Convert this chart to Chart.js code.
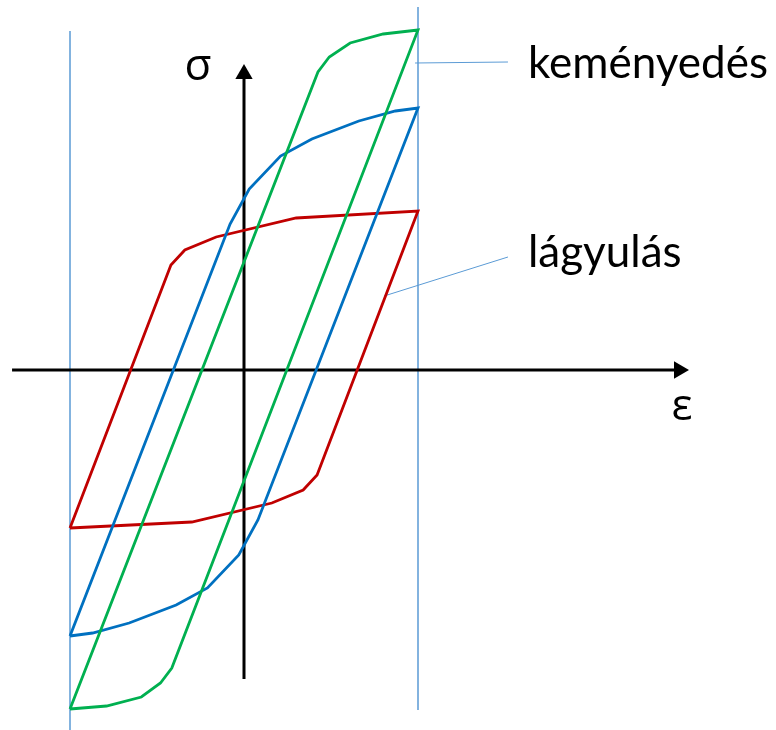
<!DOCTYPE html>
<html>
<head>
<meta charset="utf-8">
<script src="https://cdn.jsdelivr.net/npm/chart.js@4"></script>
<style>
  html, body { margin: 0; padding: 0; background: #fff; }
  canvas { display: block; }
</style>
</head>
<body>
<canvas id="loops" width="776" height="730"></canvas>
<script>
// cyclic stress-strain loops, strain = eps, stress = sig (arbitrary units)
// each loop: bottom-left corner -> upper branch -> top-right -> lower branch -> back
const softEps = [-1, -0.42, -0.34, -0.16, 0.30, 1, 0.42, 0.34, 0.16, -0.30, -1];
const softSig = [-1.58, 1.05, 1.20, 1.33, 1.52, 1.59, -1.05, -1.20, -1.33, -1.52, -1.58];

const midEps = [-1, -0.08, 0.03, 0.21, 0.39, 0.66, 0.87, 1, 0.08, -0.03, -0.21, -0.39, -0.66, -0.87, -1];
const midSig = [-2.66, 1.46, 1.81, 2.14, 2.31, 2.49, 2.59, 2.62, -1.50, -1.85, -2.18, -2.35, -2.53, -2.63, -2.66];

const hardEps = [-1, 0.425, 0.49, 0.61, 0.80, 1, -0.415, -0.48, -0.59, -0.79, -1];
const hardSig = [-3.39, 2.98, 3.13, 3.27, 3.36, 3.40, -2.98, -3.13, -3.27, -3.36, -3.39];

// axes (with arrow tips) and the strain limits
const epsAxisEps = [-1.333, 2.50];
const epsAxisSig = [0, 0];
const sigAxisEps = [0, 0];
const sigAxisSig = [-3.09, 2.96];
const limitLeftSig = [3.39, -3.7];
const limitRightSig = [3.63, -3.40];

// callout lines to the labels
const hardLeadEps = [0.983, 1.517];
const hardLeadSig = [3.07, 3.08];
const softLeadEps = [0.805, 1.517];
const softLeadSig = [0.74, 1.13];

const labelHard = 'keményedés';
const labelSoft = 'lágyulás';
const labelSig = 'σ';
const labelEps = 'ε';

function pts(xs, ys) {
  return xs.map((x, i) => ({ x: x, y: ys[i] }));
}

function lineSet(data, color, width, order) {
  return {
    data: data,
    showLine: true,
    borderColor: color,
    borderWidth: width,
    pointRadius: 0,
    fill: false,
    tension: 0,
    order: order
  };
}

const guideBlue = '#5b9bd5';

const axisX = lineSet(pts(epsAxisEps, epsAxisSig), '#000', 3, 5);
axisX.pointRadius = [0, 10];
axisX.pointStyle = 'triangle';
axisX.rotation = 90;
axisX.pointBackgroundColor = '#000';
axisX.pointBorderWidth = 0;

const axisY = lineSet(pts(sigAxisEps, sigAxisSig), '#000', 3, 5);
axisY.pointRadius = [0, 10];
axisY.pointStyle = 'triangle';
axisY.pointBackgroundColor = '#000';
axisY.pointBorderWidth = 0;

const textPlugin = {
  id: 'loopText',
  afterDraw(chart) {
    const ctx = chart.ctx;
    const sx = chart.scales.x, sy = chart.scales.y;
    const at = (e, s) => [sx.getPixelForValue(e), sy.getPixelForValue(s)];
    ctx.save();
    ctx.fillStyle = '#000';
    ctx.textBaseline = 'alphabetic';

    ctx.textAlign = 'center';
    ctx.font = '44px "Open Sans"';
    let p = at(-0.264, 2.90);
    ctx.fillText(labelSig, p[0], p[1]);
    p = at(2.517, -0.50);
    ctx.fillText(labelEps, p[0], p[1]);

    ctx.textAlign = 'left';
    ctx.font = '44px Lato';
    p = at(1.632, 2.92);
    ctx.fillText(labelHard, p[0], p[1]);
    p = at(1.632, 1.03);
    ctx.fillText(labelSoft, p[0], p[1]);
    ctx.restore();
  }
};

new Chart(document.getElementById('loops'), {
  type: 'scatter',
  data: {
    datasets: [
      lineSet(pts([-1, -1], limitLeftSig), guideBlue, 1.5, 6),
      lineSet(pts([1, 1], limitRightSig), guideBlue, 1.5, 6),
      lineSet(pts(hardLeadEps, hardLeadSig), guideBlue, 1, 6),
      lineSet(pts(softLeadEps, softLeadSig), guideBlue, 1, 6),
      axisX,
      axisY,
      lineSet(pts(softEps, softSig), '#c00000', 2.8, 3),
      lineSet(pts(midEps, midSig), '#0070c0', 2.8, 2),
      lineSet(pts(hardEps, hardSig), '#00b050', 2.8, 1)
    ]
  },
  options: {
    responsive: false,
    animation: false,
    layout: { padding: 0, autoPadding: false },
    scales: {
      x: { type: 'linear', min: -244 / 174, max: 532 / 174, display: false },
      y: { type: 'linear', min: -3.6, max: 3.7, display: false }
    },
    plugins: {
      legend: { display: false },
      tooltip: { enabled: false }
    }
  },
  plugins: [textPlugin]
});
</script>
</body>
</html>
